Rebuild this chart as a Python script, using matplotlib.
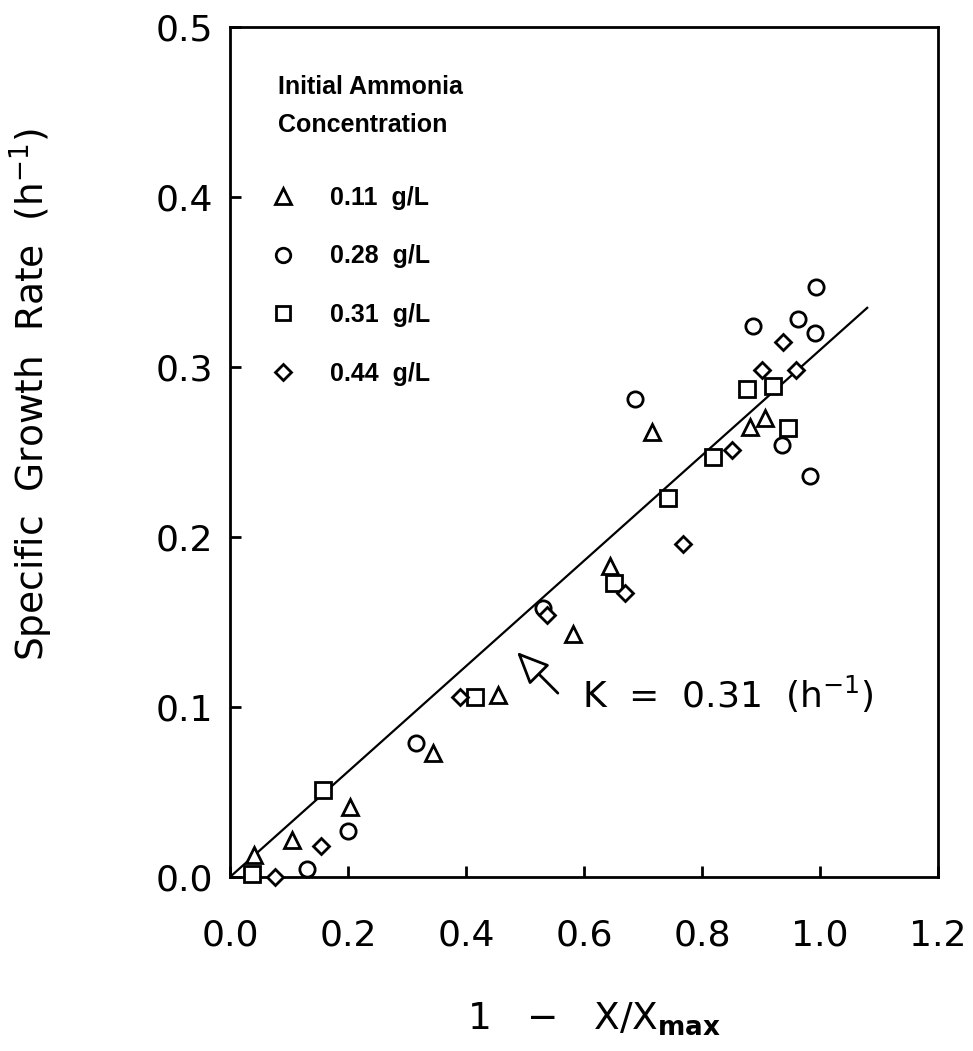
import matplotlib
matplotlib.use("Agg")
import matplotlib.pyplot as plt

# Specific growth rate vs. 1 - X/Xmax for four initial ammonia levels
x_011 = [0.040, 0.105, 0.203, 0.344, 0.455, 0.582, 0.644, 0.715, 0.881, 0.907]
y_011 = [0.013, 0.022, 0.041, 0.073, 0.107, 0.143, 0.183, 0.262, 0.265, 0.270]

x_028 = [0.130, 0.200, 0.316, 0.531, 0.686, 0.887, 0.935, 0.963, 0.983, 0.992, 0.994]
y_028 = [0.005, 0.027, 0.079, 0.158, 0.281, 0.324, 0.254, 0.328, 0.236, 0.320, 0.347]

x_031 = [0.037, 0.158, 0.415, 0.650, 0.743, 0.818, 0.876, 0.921, 0.946]
y_031 = [0.002, 0.051, 0.106, 0.173, 0.223, 0.247, 0.287, 0.289, 0.264]

x_044 = [0.076, 0.155, 0.389, 0.537, 0.669, 0.768, 0.850, 0.901, 0.938, 0.959]
y_044 = [0.000, 0.018, 0.106, 0.154, 0.167, 0.196, 0.251, 0.298, 0.315, 0.298]

legend_title = ["Initial Ammonia", "Concentration"]
legend_labels = ["0.11  g/L", "0.28  g/L", "0.31  g/L", "0.44  g/L"]

# first-order fit: mu = K * (1 - X/Xmax)
K = 0.31
fit_x = [0.0, 1.08]

xticks = [0.0, 0.2, 0.4, 0.6, 0.8, 1.0, 1.2]
yticks = [0.0, 0.1, 0.2, 0.3, 0.4, 0.5]

W, H = 973, 1051
fig = plt.figure(figsize=(W / 100, H / 100), dpi=100)
L, R, T, B = 230, 938, 27, 877
ax = fig.add_axes([L / W, 1 - B / H, (R - L) / W, (B - T) / H])


def ax_x(px):
    return (px - L) / (R - L)


def ax_y(py):
    return (B - py) / (B - T)


ax.plot(fit_x, [K * v for v in fit_x], color="black", lw=1.6)

style = dict(ls="none", mfc="white", mec="black", mew=2.0, clip_on=False, zorder=3)
series = [
    (x_011, y_011, "^", 12),
    (x_028, y_028, "o", 11),
    (x_031, y_031, "s", 11),
    (x_044, y_044, "D", 8.5),
]
handles = []
for (xs, ys, m, ms), lab in zip(series, legend_labels):
    h, = ax.plot(xs, ys, marker=m, ms=ms, label=lab, **style)
    handles.append(h)

ax.set_xlim(0, 1.2)
ax.set_ylim(0, 0.5)
ax.set_xticks(xticks)
ax.set_yticks(yticks)
ax.set_xticklabels([f"{v:.1f}" for v in xticks])
ax.set_yticklabels([f"{v:.1f}" for v in yticks])
ax.tick_params(axis="x", direction="in", length=8, width=2, pad=30, labelsize=26)
ax.tick_params(axis="y", direction="in", length=8, width=2, pad=12, labelsize=26)
for s in ax.spines.values():
    s.set_linewidth(2.0)

ax.set_xlabel(r"1   $-$   X/X$_{\mathbf{max}}$", fontsize=27, va="top")
ax.xaxis.set_label_coords(ax_x(594), ax_y(1000))
ax.set_ylabel(r"Specific  Growth  Rate  (h$^{-1}$)", fontsize=27, va="center")
ax.yaxis.set_label_coords(ax_x(31), ax_y(395))

# annotation for the slope
ax.annotate("", xy=(0.483, 0.1335), xytext=(0.559, 0.107),
            arrowprops=dict(arrowstyle="-|>,head_length=0.9,head_width=0.4",
                            mutation_scale=22, fc="white", ec="black", lw=2))
ax.text(0.597, 0.0994, f"K  =  {K:.2f}  (h$^{{-1}}$)", fontsize=26,
        ha="left", va="baseline")

leg_font = dict(family=["Liberation Sans", "DejaVu Sans"], weight="bold", size=18)
for line, py in zip(legend_title, [87, 125]):
    ax.text(ax_x(278), ax_y(py), line, transform=ax.transAxes,
            ha="left", va="center", fontproperties=leg_font)

leg = ax.legend(handles=handles, loc="upper left",
                bbox_to_anchor=(ax_x(270), ax_y(186)), frameon=False,
                prop=leg_font, handlelength=1.0, handletextpad=1.4,
                labelspacing=1.38, borderpad=0, borderaxespad=0,
                markerscale=0.95)

fig.savefig("out.png", dpi=100)
